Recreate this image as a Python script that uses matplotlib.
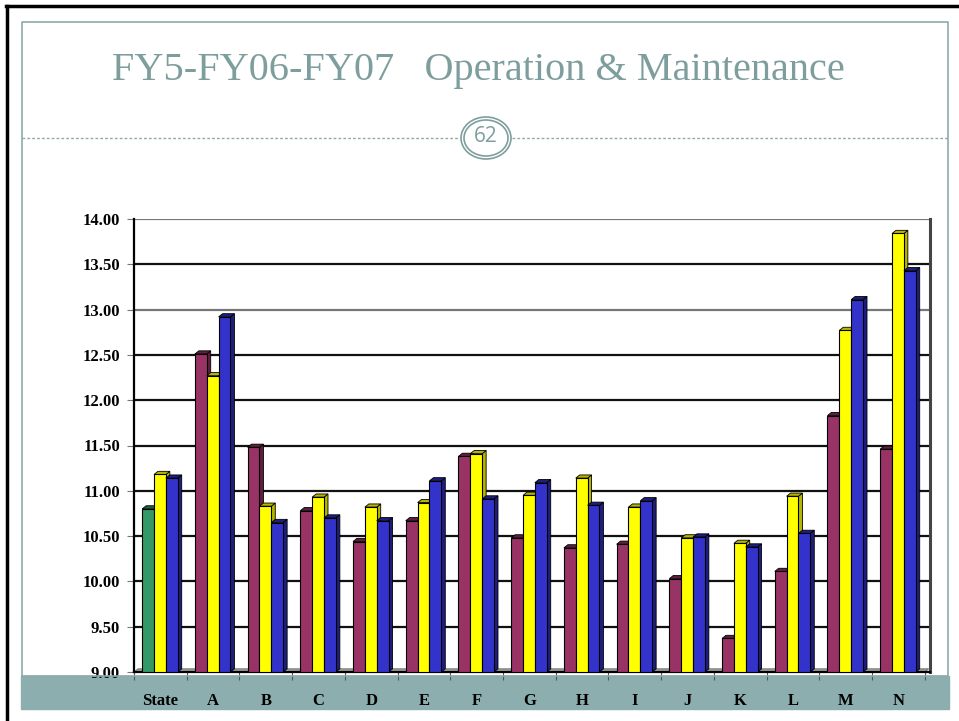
import matplotlib.pyplot as plt
from matplotlib.patches import Polygon, Rectangle, Ellipse
from matplotlib.lines import Line2D

# values (O&M per unit, three fiscal years)
categories = ['State', 'A', 'B', 'C', 'D', 'E', 'F', 'G', 'H', 'I', 'J', 'K', 'L', 'M', 'N']
fy05 = [10.80, 12.51, 11.48, 10.78, 10.44, 10.67, 11.38, 10.48, 10.37, 10.41, 10.03, 9.37, 10.11, 11.83, 11.46]
fy06 = [11.18, 12.27, 10.83, 10.93, 10.82, 10.87, 11.41, 10.95, 11.14, 10.82, 10.48, 10.42, 10.94, 12.77, 13.84]
fy07 = [11.14, 12.92, 10.65, 10.70, 10.67, 11.11, 10.91, 11.09, 10.84, 10.89, 10.49, 10.38, 10.53, 13.11, 13.43]
yticks = [9.0, 9.5, 10.0, 10.5, 11.0, 11.5, 12.0, 12.5, 13.0, 13.5, 14.0]

W, H = 959, 721
teal = '#7E9E9E'
face = {'maroon': '#993366', 'yellow': '#FFFF00', 'blue': '#3333CC', 'green': '#339966'}
side = {'maroon': '#5E1F3F', 'yellow': '#B5B500', 'blue': '#1E1E80', 'green': '#1F6040'}

fig = plt.figure(figsize=(W / 100, H / 100), dpi=100)

def fx(px):
    return px / W

def fy(py):
    return 1 - py / H

# slide frame
fig.add_artist(Line2D([fx(6), 1], [fy(6), fy(6)], color='black', lw=2.5))
fig.add_artist(Line2D([fx(7), fx(7)], [0, fy(6)], color='black', lw=2.5))
fig.add_artist(Line2D([fx(22), fx(948), fx(948), fx(22), fx(22)],
                      [fy(676), fy(676), fy(22), fy(22), fy(676)], color='#8FAAAA', lw=1.2))
fig.add_artist(Rectangle((fx(21), fy(709)), fx(949) - fx(21), fy(676) - fy(709), color='#8DAEAE', zorder=-1))

# title and page badge
fig.text(fx(478), fy(80), 'FY5-FY06-FY07   Operation & Maintenance', ha='center', va='baseline',
         family='Liberation Serif', fontsize=29, color=teal)
fig.add_artist(Line2D([fx(22), fx(461)], [fy(138), fy(138)], color='#8FAAAA', lw=1, ls=(0, (2, 1.5))))
fig.add_artist(Line2D([fx(512), fx(948)], [fy(138), fy(138)], color='#8FAAAA', lw=1, ls=(0, (2, 1.5))))
fig.add_artist(Ellipse((fx(486), fy(138)), fx(50), fy(0) - fy(42), fill=False, ec=teal, lw=1.2))
fig.add_artist(Ellipse((fx(486), fy(138)), fx(44), fy(0) - fy(36), fill=False, ec=teal, lw=1.2))
fig.text(fx(486), fy(136), '62', ha='center', va='center', family='Open Sans', fontsize=15, color=teal)

# chart area
ax = fig.add_axes([fx(134), fy(672), fx(930) - fx(134), fy(219) - fy(672)])
ax.set_xlim(0, 15.1)
ax.set_ylim(9.0, 14.0)

dx, dy = 0.075, 0.035
w, off = 0.225, 0.155

for y in yticks[1:]:
    ax.axhline(y, color='#777777' if y in (13.0, 14.0) else '#111111', lw=1.6, zorder=1)

ax.add_patch(Polygon([(0, 9.0), (15, 9.0), (15 + dx, 9.0 + dy), (dx, 9.0 + dy)],
                     closed=True, fc='#A0A0A0', ec='#666666', lw=0.6, zorder=2))

z = 3
for i, cat in enumerate(categories):
    first = 'green' if cat == 'State' else 'maroon'
    for k, (vals, col) in enumerate([(fy05, first), (fy06, 'yellow'), (fy07, 'blue')]):
        v = vals[i]
        x0 = i + off + k * w
        ax.add_patch(Polygon([(x0 + w, 9.0), (x0 + w + dx, 9.0 + dy), (x0 + w + dx, v + dy), (x0 + w, v)],
                             closed=True, fc=side[col], ec='black', lw=0.6, zorder=z))
        ax.add_patch(Polygon([(x0, v), (x0 + dx, v + dy), (x0 + w + dx, v + dy), (x0 + w, v)],
                             closed=True, fc=side[col], ec='black', lw=0.6, zorder=z))
        ax.bar(x0, v - 9.0, width=w, bottom=9.0, align='edge', color=face[col],
               edgecolor='black', lw=0.8, zorder=z + 1)
        z += 2

ax.spines['top'].set_visible(False)
ax.spines['left'].set_color('black')
ax.spines['left'].set_linewidth(1.6)
ax.spines['bottom'].set_color('black')
ax.spines['bottom'].set_linewidth(1.6)
ax.spines['right'].set_color('#444444')
ax.spines['right'].set_linewidth(2.2)

ax.set_yticks(yticks)
ax.set_yticklabels([f'{t:.2f}' for t in yticks], family='Liberation Serif', fontweight='bold', fontsize=12)
ax.tick_params(axis='y', length=5, color='#777777', pad=5)

ax.set_xticks(range(16))
ax.set_xticklabels([])
ax.tick_params(axis='x', which='major', length=6, color='#555555', direction='out')
ax.set_xticks([i + 0.5 for i in range(15)], minor=True)
ax.set_xticklabels(categories, minor=True, family='Liberation Serif', fontweight='bold', fontsize=12)
ax.tick_params(axis='x', which='minor', length=0, pad=15)

fig.savefig('out.png', dpi=100)
